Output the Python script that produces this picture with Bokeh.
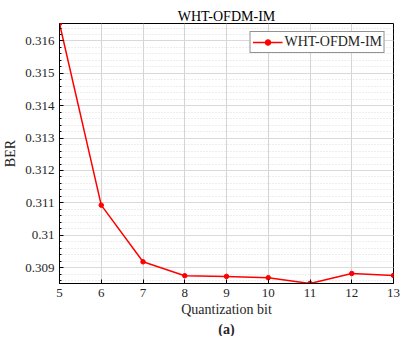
from bokeh.plotting import figure
from bokeh.models import Range1d, Title, Legend, LegendItem, FixedTicker
from bokeh.embed import file_html
from bokeh.resources import INLINE

bits = [5, 6, 7, 8, 9, 10, 11, 12, 13]
ber = [0.31654, 0.31093, 0.30918, 0.30875, 0.30873, 0.30869, 0.30851, 0.30882, 0.30876]
yticks = [0.309, 0.31, 0.311, 0.312, 0.313, 0.314, 0.315, 0.316]
ylabels = {0.309: "0.309", 0.31: "0.31", 0.311: "0.311", 0.312: "0.312",
           0.313: "0.313", 0.314: "0.314", 0.315: "0.315", 0.316: "0.316"}
yminor = [round(0.3086 + 0.0002 * i, 4) for i in range(40)]

FONT = "Liberation Serif"
TICKFONT = "'Liberation Serif', serif"
TXT = "#262626"

p = figure(width=400, height=336, output_backend="svg", toolbar_location=None,
           x_range=Range1d(5, 13), y_range=Range1d(min(ber), max(ber)),
           min_border_left=51, min_border_right=7, min_border_top=23, min_border_bottom=0)

p.title.text = "WHT-OFDM-IM"
p.title.align = "center"
p.title.text_font = FONT
p.title.text_font_size = "14px"
p.title.text_font_style = "normal"
p.title.text_color = "black"
p.title.standoff = 0
p.title.offset = 0

p.outline_line_color = "black"
p.outline_line_width = 1

for ax in (p.xaxis[0], p.yaxis[0]):
    ax.major_label_text_font = TICKFONT
    ax.major_label_text_font_size = "13px"
    ax.major_label_text_color = TXT
    ax.axis_label_text_font = FONT
    ax.axis_label_text_font_size = "14px"
    ax.axis_label_text_font_style = "normal"
    ax.axis_label_text_color = TXT
    ax.major_tick_in = 4
    ax.major_tick_out = 0
    ax.minor_tick_in = 2
    ax.minor_tick_out = 0
    ax.axis_line_color = "black"

p.xaxis.ticker = FixedTicker(ticks=bits)
p.xaxis.minor_tick_line_color = None
p.xaxis.axis_label = "Quantization bit"
p.xaxis.axis_label_standoff = 2
p.xaxis.major_label_standoff = 5

p.yaxis.ticker = FixedTicker(ticks=yticks, minor_ticks=yminor)
p.yaxis.major_label_overrides = ylabels
p.yaxis.axis_label = "BER"
p.yaxis.axis_label_standoff = 4
p.yaxis.major_label_standoff = 5

p.xgrid.grid_line_color = "#d4d4d4"
p.xgrid.grid_line_width = 1
p.ygrid.grid_line_color = "#d9d9d9"
p.ygrid.grid_line_width = 1
p.ygrid.minor_grid_line_color = "#dcdcdc"
p.ygrid.minor_grid_line_dash = "1 2"

ln = p.line(bits, ber, line_color="red", line_width=1.5)
sc = p.scatter(bits, ber, size=4.5, color="red")

legend = Legend(items=[LegendItem(label="WHT-OFDM-IM", renderers=[ln, sc])],
                location="top_right", label_text_font=FONT, label_text_font_size="14px",
                label_text_color=TXT,
                border_line_color="#262626", border_line_width=1, background_fill_alpha=1,
                padding=2, spacing=0, margin=8, glyph_width=30, glyph_height=14,
                label_standoff=2, label_height=14)
p.add_layout(legend)

p.add_layout(Title(text="(a)", align="center", text_font=FONT, text_font_size="14px",
                   text_font_style="bold", text_color=TXT, standoff=0, offset=0), "below")

open("out.html", "w").write(file_html(p, INLINE))
